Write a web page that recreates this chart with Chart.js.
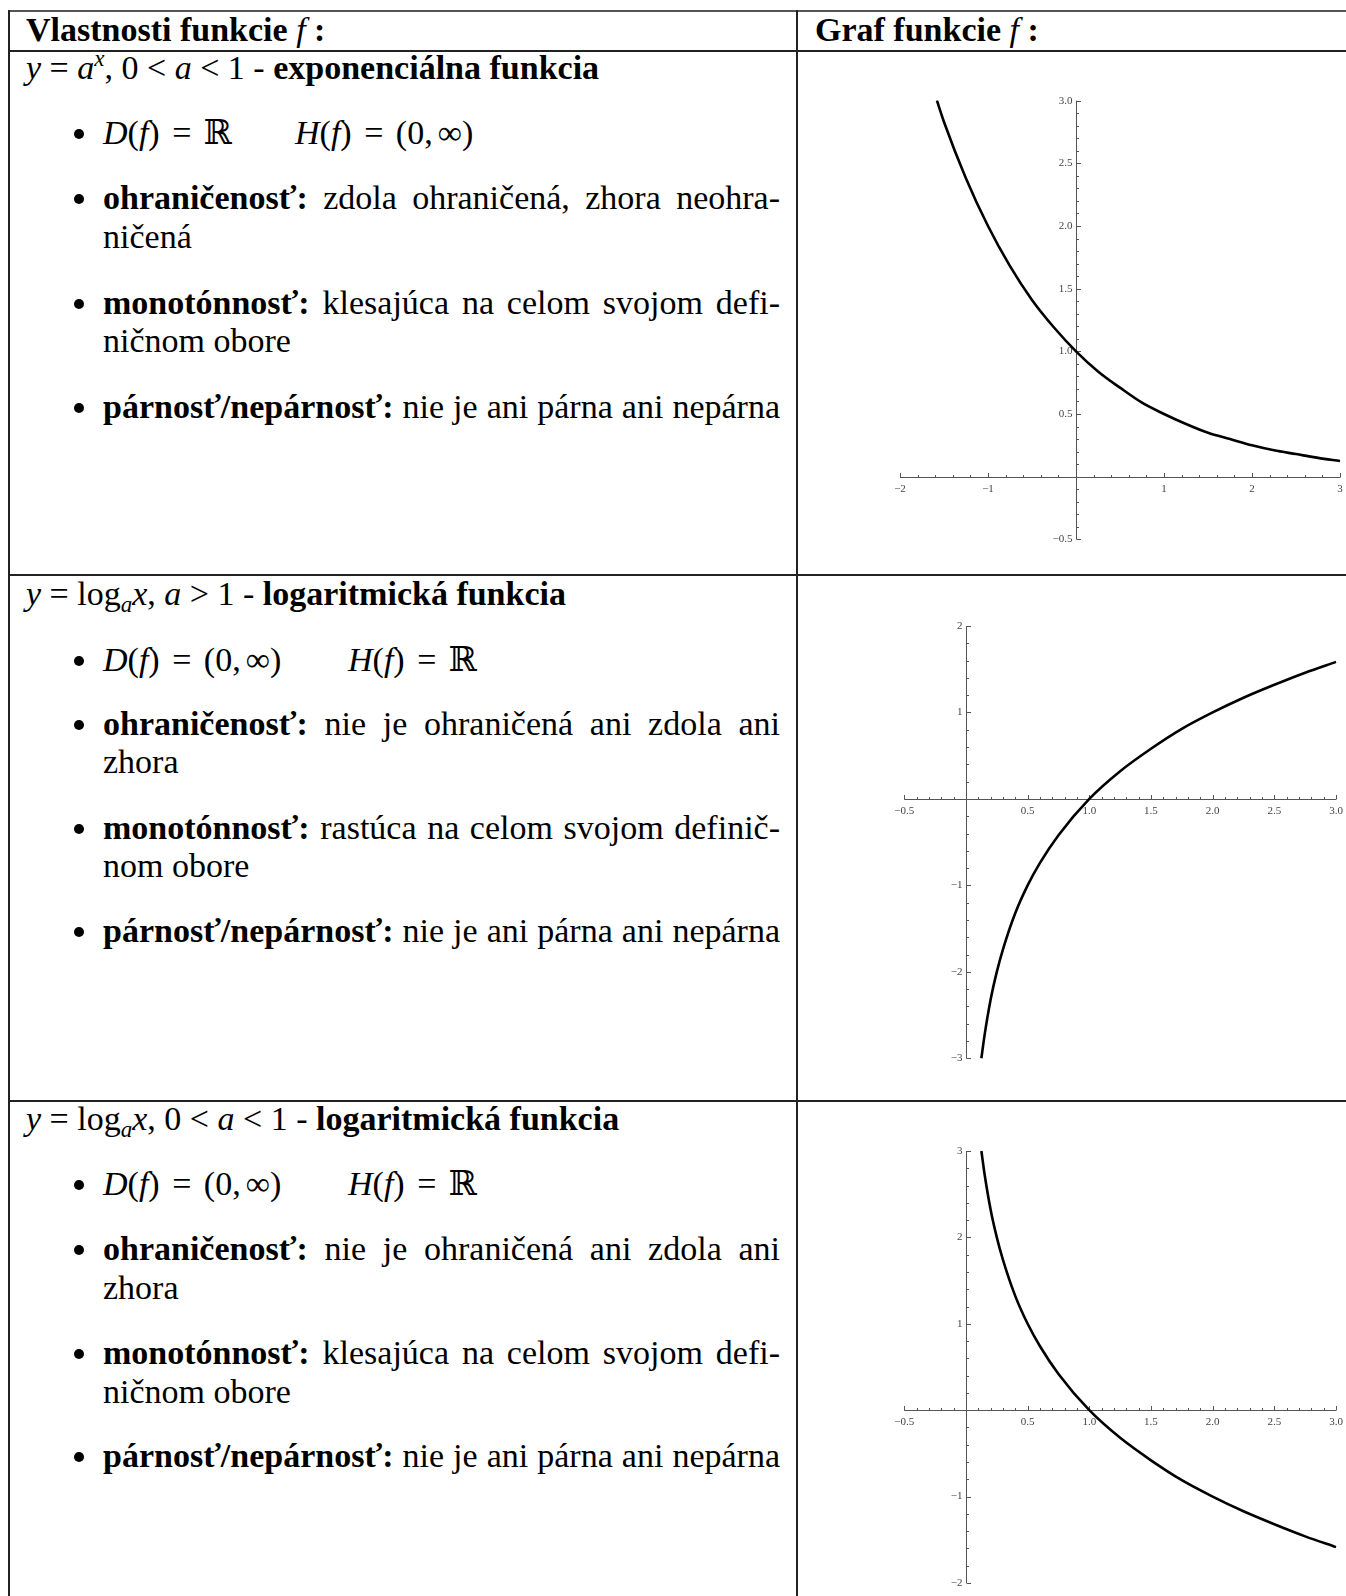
<!DOCTYPE html>
<html lang="sk">
<head>
<meta charset="utf-8">
<title>Exponenciálna a logaritmická funkcia</title>
<script src="https://cdn.jsdelivr.net/npm/chart.js@4/dist/chart.umd.min.js"></script>
<style>
  html, body { margin: 0; padding: 0; background: #fff; }
  body { width: 1346px; height: 1596px; position: relative; overflow: hidden;
         font-family: "Liberation Serif", "DejaVu Serif", serif; font-size: 34px; color: #000; }
  .hl { position: absolute; left: 8px; right: 0; height: 2px; background: #222; }
  .vl { position: absolute; top: 10px; bottom: 0; width: 2px; background: #222; }
  .ln { position: absolute; line-height: 38px; white-space: nowrap; }
  .just { left: 103px; width: 677px; text-align: justify; text-align-last: justify; }
  .bul { position: absolute; left: 74px; width: 10px; height: 10px; border-radius: 50%; background: #000; }
  .eq { margin: 0 4px; }
  .ci { margin-left: 5px; }
  i { font-style: italic; }
  b { font-weight: bold; }
  sup { font-size: 23px; vertical-align: 13px; line-height: 0; }
  sub { font-size: 23px; vertical-align: -7px; line-height: 0; }
  canvas { position: absolute; }
</style>
</head>
<body>

<!-- čiary tabuľky -->
<div class="hl" style="top:10px; background:#555"></div>
<div class="hl" style="top:50px"></div>
<div class="hl" style="top:574px"></div>
<div class="hl" style="top:1100px"></div>
<div class="vl" style="left:8px"></div>
<div class="vl" style="left:796px"></div>

<!-- hlavička -->
<div class="ln" style="left:26px; top:11px"><b>Vlastnosti funkcie <i style="font-weight:normal">f</i> :</b></div>
<div class="ln" style="left:815px; top:11px"><b>Graf funkcie <i style="font-weight:normal">f</i> :</b></div>

<!-- riadok 1 -->
<div class="ln" style="left:26px; top:49px"><i>y</i> = <i>a</i><sup><i>x</i></sup>, 0 &lt; <i>a</i> &lt; 1 - <b>exponenciálna funkcia</b></div>
<div class="bul" style="top:129px"></div>
<div class="ln" style="left:103px; top:114px"><i>D</i>(<i>f</i>) <span class="eq">=</span> ℝ</div>
<div class="ln" style="left:295px; top:114px"><i>H</i>(<i>f</i>) <span class="eq">=</span> (0,<span class="ci">∞</span>)</div>
<div class="bul" style="top:194px"></div>
<div class="ln just" style="top:179px"><b>ohraničenosť:</b> zdola ohraničená, zhora neohra-</div>
<div class="ln" style="left:103px; top:218px">ničená</div>
<div class="bul" style="top:299px"></div>
<div class="ln just" style="top:284px"><b>monotónnosť:</b> klesajúca na celom svojom defi-</div>
<div class="ln" style="left:103px; top:322px">ničnom obore</div>
<div class="bul" style="top:403px"></div>
<div class="ln just" style="top:388px"><b>párnosť/nepárnosť:</b> nie je ani párna ani nepárna</div>

<!-- riadok 2 -->
<div class="ln" style="left:26px; top:575px"><i>y</i> = log<sub><i>a</i></sub><i>x</i>, <i>a</i> &gt; 1 - <b>logaritmická funkcia</b></div>
<div class="bul" style="top:656px"></div>
<div class="ln" style="left:103px; top:641px"><i>D</i>(<i>f</i>) <span class="eq">=</span> (0,<span class="ci">∞</span>)</div>
<div class="ln" style="left:348px; top:641px"><i>H</i>(<i>f</i>) <span class="eq">=</span> ℝ</div>
<div class="bul" style="top:720px"></div>
<div class="ln just" style="top:705px"><b>ohraničenosť:</b> nie je ohraničená ani zdola ani</div>
<div class="ln" style="left:103px; top:743px">zhora</div>
<div class="bul" style="top:824px"></div>
<div class="ln just" style="top:809px"><b>monotónnosť:</b> rastúca na celom svojom definič-</div>
<div class="ln" style="left:103px; top:847px">nom obore</div>
<div class="bul" style="top:927px"></div>
<div class="ln just" style="top:912px"><b>párnosť/nepárnosť:</b> nie je ani párna ani nepárna</div>

<!-- riadok 3 -->
<div class="ln" style="left:26px; top:1100px"><i>y</i> = log<sub><i>a</i></sub><i>x</i>, 0 &lt; <i>a</i> &lt; 1 - <b>logaritmická funkcia</b></div>
<div class="bul" style="top:1180px"></div>
<div class="ln" style="left:103px; top:1165px"><i>D</i>(<i>f</i>) <span class="eq">=</span> (0,<span class="ci">∞</span>)</div>
<div class="ln" style="left:348px; top:1165px"><i>H</i>(<i>f</i>) <span class="eq">=</span> ℝ</div>
<div class="bul" style="top:1245px"></div>
<div class="ln just" style="top:1230px"><b>ohraničenosť:</b> nie je ohraničená ani zdola ani</div>
<div class="ln" style="left:103px; top:1269px">zhora</div>
<div class="bul" style="top:1349px"></div>
<div class="ln just" style="top:1334px"><b>monotónnosť:</b> klesajúca na celom svojom defi-</div>
<div class="ln" style="left:103px; top:1373px">ničnom obore</div>
<div class="bul" style="top:1452px"></div>
<div class="ln just" style="top:1437px"><b>párnosť/nepárnosť:</b> nie je ani párna ani nepárna</div>

<!-- grafy -->
<canvas id="graf1" width="548" height="523" style="left:798px; top:52px"></canvas>
<canvas id="graf2" width="548" height="524" style="left:798px; top:576px"></canvas>
<canvas id="graf3" width="548" height="494" style="left:798px; top:1102px"></canvas>

<script>
// Graf 1: y = a^x, 0 < a < 1 (body odčítané z obrázka)
const expX = [-1.58, -1.5, -1.25, -1, -0.75, -0.5, -0.25, 0, 0.25, 0.5, 0.75, 1, 1.25, 1.5, 1.75, 2, 2.25, 2.5, 2.75, 3];
const expY = [3.0, 2.83, 2.38, 2.0, 1.68, 1.41, 1.19, 1.0, 0.84, 0.71, 0.59, 0.5, 0.42, 0.35, 0.30, 0.25, 0.21, 0.18, 0.15, 0.125];

// Graf 2 a 3: logaritmické funkcie
const logX = [0.125, 0.15, 0.2, 0.25, 0.3, 0.4, 0.5, 0.6, 0.75, 1, 1.25, 1.5, 1.75, 2, 2.25, 2.5, 2.75, 3];
const logRastY = [-3, -2.74, -2.32, -2, -1.74, -1.32, -1, -0.74, -0.42, 0, 0.32, 0.58, 0.81, 1, 1.17, 1.32, 1.46, 1.585];
const logKlesY = [3, 2.74, 2.32, 2, 1.74, 1.32, 1, 0.74, 0.42, 0, -0.32, -0.58, -0.81, -1, -1.17, -1.32, -1.46, -1.585];

// Popisy osí
const expXTicks = [-2, -1, 1, 2, 3];
const expXLabels = ['−2', '−1', '1', '2', '3'];
const expYTicks = [-0.5, 0.5, 1, 1.5, 2, 2.5, 3];
const expYLabels = ['−0.5', '0.5', '1.0', '1.5', '2.0', '2.5', '3.0'];
const logXTicks = [-0.5, 0.5, 1, 1.5, 2, 2.5, 3];
const logXLabels = ['−0.5', '0.5', '1.0', '1.5', '2.0', '2.5', '3.0'];
const logRastYTicks = [-3, -2, -1, 1, 2];
const logRastYLabels = ['−3', '−2', '−1', '1', '2'];
const logKlesYTicks = [-2, -1, 1, 2, 3];
const logKlesYLabels = ['−2', '−1', '1', '2', '3'];

// Plugin, ktorý kreslí osi cez nulu v štýle Mathematica
const osiPlugin = {
    id: 'osi',
    beforeDatasetsDraw(chart, args, o) {
        const ctx = chart.ctx;
        const sx = chart.scales.x, sy = chart.scales.y;
        const x0 = Math.round(sx.getPixelForValue(0)) + 0.5;
        const y0 = Math.round(sy.getPixelForValue(0)) + 0.5;
        ctx.save();
        ctx.strokeStyle = '#555';
        ctx.lineWidth = 1;
        ctx.beginPath();
        ctx.moveTo(sx.getPixelForValue(sx.min), y0);
        ctx.lineTo(sx.getPixelForValue(sx.max), y0);
        ctx.moveTo(x0, sy.getPixelForValue(sy.min));
        ctx.lineTo(x0, sy.getPixelForValue(sy.max));

        // malé a veľké značky na osi x
        let n = Math.round((sx.max - sx.min) / o.xMinor);
        for (let i = 0; i <= n; i++) {
            const v = sx.min + i * o.xMinor;
            const r = v / o.xMajor;
            const len = Math.abs(r - Math.round(r)) < 1e-6 ? 4.5 : 2.5;
            const px = Math.round(sx.getPixelForValue(v)) + 0.5;
            ctx.moveTo(px, y0);
            ctx.lineTo(px, y0 - len);
        }
        // značky na osi y
        n = Math.round((sy.max - sy.min) / o.yMinor);
        for (let i = 0; i <= n; i++) {
            const v = sy.min + i * o.yMinor;
            const r = v / o.yMajor;
            const len = Math.abs(r - Math.round(r)) < 1e-6 ? 4.5 : 2.5;
            const py = Math.round(sy.getPixelForValue(v)) + 0.5;
            ctx.moveTo(x0, py);
            ctx.lineTo(x0 + len, py);
        }
        ctx.stroke();

        ctx.fillStyle = '#444';
        ctx.font = '11px "Liberation Serif", serif';
        ctx.textAlign = 'center';
        ctx.textBaseline = 'top';
        o.xTicks.forEach((v, i) => {
            ctx.fillText(o.xLabels[i], sx.getPixelForValue(v), y0 + 6);
        });
        ctx.textAlign = 'right';
        ctx.textBaseline = 'middle';
        o.yTicks.forEach((v, i) => {
            ctx.fillText(o.yLabels[i], x0 - 4, sy.getPixelForValue(v));
        });
        ctx.restore();
    }
};

function vytvorGraf(id, xs, ys, rozsah, padding, osi) {
    const ctx = document.getElementById(id).getContext('2d');
    return new Chart(ctx, {
        type: 'line',
        data: {
            datasets: [{
                data: xs.map((x, i) => ({ x: x, y: ys[i] })),
                borderColor: '#000',
                borderWidth: 2.6,
                pointRadius: 0,
                fill: false,
                cubicInterpolationMode: 'monotone',
                clip: false
            }]
        },
        options: {
            responsive: false,
            animation: false,
            events: [],
            layout: { padding: padding },
            plugins: {
                legend: { display: false },
                tooltip: { enabled: false },
                osi: osi
            },
            scales: {
                x: { type: 'linear', min: rozsah[0], max: rozsah[1], display: false },
                y: { type: 'linear', min: rozsah[2], max: rozsah[3], display: false }
            }
        },
        plugins: [osiPlugin]
    });
}

vytvorGraf('graf1', expX, expY, [-2, 3, -0.5, 3],
    { left: 102, right: 6, top: 48.7, bottom: 35.7 },
    { xMinor: 0.2, xMajor: 1, yMinor: 0.1, yMajor: 0.5,
      xTicks: expXTicks, xLabels: expXLabels, yTicks: expYTicks, yLabels: expYLabels });

vytvorGraf('graf2', logX, logRastY, [-0.5, 3, -3, 2],
    { left: 106.3, right: 10, top: 50, bottom: 41.7 },
    { xMinor: 0.1, xMajor: 0.5, yMinor: 0.2, yMajor: 1,
      xTicks: logXTicks, xLabels: logXLabels, yTicks: logRastYTicks, yLabels: logRastYLabels });

vytvorGraf('graf3', logX, logKlesY, [-0.5, 3, -2, 3],
    { left: 106.3, right: 10, top: 49, bottom: 13 },
    { xMinor: 0.1, xMajor: 0.5, yMinor: 0.2, yMajor: 1,
      xTicks: logXTicks, xLabels: logXLabels, yTicks: logKlesYTicks, yLabels: logKlesYLabels });
</script>
</body>
</html>
